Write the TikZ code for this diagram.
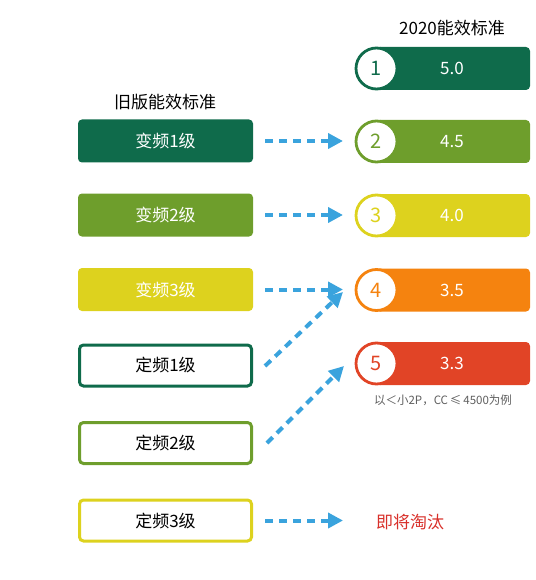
\documentclass[tikz,border=0pt]{standalone}
\usepackage{fontspec}
\setmainfont{Noto Sans CJK SC}
\usetikzlibrary{arrows.meta}
\definecolor{cA}{HTML}{0F6B4B}
\definecolor{cB}{HTML}{6E9E2C}
\definecolor{cC}{HTML}{DDD21E}
\definecolor{cD}{HTML}{F5830F}
\definecolor{cE}{HTML}{E14426}
\definecolor{arr}{HTML}{3AA3DD}
\definecolor{note}{HTML}{5E5E5E}
\definecolor{redt}{HTML}{D8302A}
\tikzset{
  oldfill/.style={rounded corners=4pt, minimum width=175pt, minimum height=43pt, inner sep=0pt, text=white, font=\fontsize{17}{20}\selectfont},
  oldline/.style={rounded corners=4pt, minimum width=172pt, minimum height=41pt, inner sep=0pt, fill=white, line width=3pt, text=black, font=\fontsize{17}{20}\selectfont},
  bar/.style={rounded corners=4pt, minimum width=154pt, minimum height=43pt, inner sep=0pt},
  ring/.style={circle, fill=white, line width=2.8pt, minimum size=41pt, inner sep=0pt, font=\fontsize{20}{22}\selectfont},
  val/.style={text=white, font=\fontsize{17}{20}\selectfont},
  conn/.style={draw=arr, line width=4pt, dash pattern=on 8pt off 6pt, -{Triangle[length=15pt,width=15pt]}},
  ttl/.style={font=\fontsize{17}{20}\selectfont, text=black}
}
\begin{document}
\begin{tikzpicture}[x=1pt,y=-1pt]
\useasboundingbox (0,0) rectangle (535,580);
% titles
\node[ttl] (tnew) at (452,28) {2020能效标准};
\node[ttl] (told) at (165,102) {旧版能效标准};
% left boxes
\node[oldfill, fill=cA] (o1) at (165.5,141) {变频1级};
\node[oldfill, fill=cB] (o2) at (165.5,215) {变频2级};
\node[oldfill, fill=cC] (o3) at (165.5,289.5) {变频3级};
\node[oldline, draw=cA] (o4) at (165.5,365.5) {定频1级};
\node[oldline, draw=cB] (o5) at (165.5,443) {定频2级};
\node[oldline, draw=cC] (o6) at (165.5,520.5) {定频3级};
% right bars
\node[bar, fill=cA] (b1) at (453,68.5) {};
\node[bar, fill=cB] (b2) at (453,141.5) {};
\node[bar, fill=cC] (b3) at (453,215.5) {};
\node[bar, fill=cD] (b4) at (453,290) {};
\node[bar, fill=cE] (b5) at (453,363.5) {};
\node[val] (v1) at (452,68.5) {5.0};
\node[val] (v2) at (452,141.5) {4.5};
\node[val] (v3) at (452,215.5) {4.0};
\node[val] (v4) at (452,290) {3.5};
\node[val] (v5) at (452,363.5) {3.3};
\node[ring, draw=cA, text=cA] (c1) at (376.5,68.5) {1};
\node[ring, draw=cB, text=cB] (c2) at (376.5,141.5) {2};
\node[ring, draw=cC, text=cC] (c3) at (376.5,215.5) {3};
\node[ring, draw=cD, text=cD] (c4) at (376.5,290) {4};
\node[ring, draw=cE, text=cE] (c5) at (376.5,363.5) {5};
\node[text=note, font=\fontsize{11.5}{13}\selectfont] (nt) at (443,400) {以＜小2P，CC\,≤\,4500为例};
\node[text=redt, font=\fontsize{17}{20}\selectfont] (out) at (410,522) {即将淘汰};
% connectors
\coordinate (s1) at (265,141);
\coordinate (s2) at (265,215);
\coordinate (s3) at (265,289.5);
\coordinate (s4) at (265,366);
\coordinate (s5) at (267,443);
\coordinate (s6) at (265,520.5);
\coordinate (e1) at (343,141);
\coordinate (e2) at (343,215);
\coordinate (e3) at (343,289.5);
\coordinate (e4) at (343,292);
\coordinate (e5) at (344,366);
\coordinate (e6) at (343,520.5);
\draw[conn] (s1) -- (e1);
\draw[conn] (s2) -- (e2);
\draw[conn] (s3) -- (e3);
\draw[conn] (s4) -- (e4);
\draw[conn] (s5) -- (e5);
\draw[conn] (s6) -- (e6);
\end{tikzpicture}
\end{document}
